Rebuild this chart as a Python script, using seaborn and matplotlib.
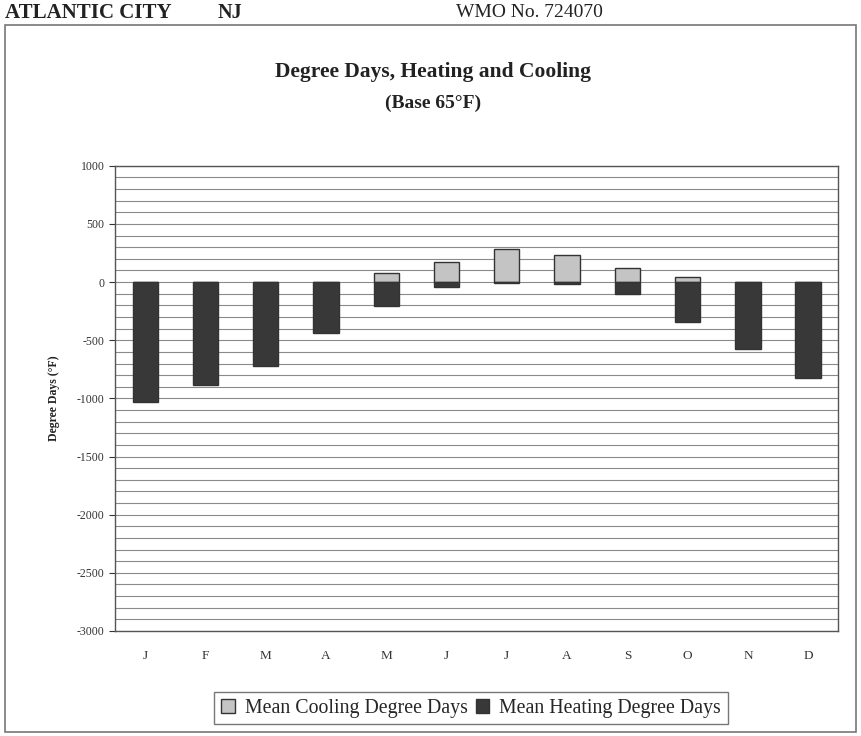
import numpy as np
import pandas as pd
import matplotlib.pyplot as plt
import seaborn as sns
from matplotlib.patches import Rectangle, Patch
from matplotlib.ticker import MultipleLocator

plt.switch_backend("agg")

# Monthly values
months = ["J", "F", "M", "A", "M", "J", "J", "A", "S", "O", "N", "D"]
cooling = [0, 0, 0, 0, 78, 172, 284, 233, 120, 43, 0, 0]
heating = [1035, 888, 724, 440, 207, 43, 4, 12, 103, 345, 578, 828]

cool_label = "Mean Cooling Degree Days"
heat_label = "Mean Heating Degree Days"

df = pd.DataFrame({
    "pos": list(range(12)) * 2,
    "value": cooling + [-h for h in heating],
    "series": [cool_label] * 12 + [heat_label] * 12,
})

sns.set_style("white")
plt.rcParams["font.family"] = ["Liberation Serif", "DejaVu Serif"]
plt.rcParams["axes.unicode_minus"] = False

fig = plt.figure(figsize=(8.61, 7.36), dpi=100)
ax = fig.add_axes([0.1336, 0.1427, 0.84, 0.632])

colors = {cool_label: "#c4c4c4", heat_label: "#383838"}
sns.barplot(data=df, x="pos", y="value", hue="series", palette=colors,
            dodge=False, width=0.42, edgecolor="#333333", linewidth=1.0,
            legend=False, ax=ax, zorder=3)

ax.set_ylim(-3000, 1000)
ax.set_xlim(-0.5, 11.5)
ax.yaxis.set_major_locator(MultipleLocator(500))
ax.yaxis.set_minor_locator(MultipleLocator(100))
ax.grid(which="both", axis="y", color="#8a8a8a", linewidth=0.8, zorder=0)
ax.set_axisbelow(True)
ax.set_xticks(range(12))
ax.set_xticklabels(months)
ax.tick_params(axis="x", length=0, pad=14, labelsize=9.5, colors="#333333")
ax.tick_params(axis="y", which="major", length=4, labelsize=8.5,
               colors="#333333", left=True)
ax.set_xlabel("")
ax.set_ylabel("Degree Days (°F)", fontsize=8.5, fontweight="bold",
              labelpad=12, color="#222222")
for s in ax.spines.values():
    s.set_color("#555555")
    s.set_linewidth(1.0)

fig.text(0.503, 0.902, "Degree Days, Heating and Cooling", ha="center",
         va="center", fontsize=15.5, fontweight="bold", color="#222222")
fig.text(0.503, 0.859, "(Base 65°F)", ha="center", va="center",
         fontsize=14, fontweight="bold", color="#222222")

fig.text(0.006, 0.983, "ATLANTIC CITY", ha="left", va="center",
         fontsize=15, fontweight="bold", color="#222222")
fig.text(0.253, 0.983, "NJ", ha="left", va="center",
         fontsize=14.5, fontweight="bold", color="#222222")
fig.text(0.615, 0.983, "WMO No. 724070", ha="center", va="center",
         fontsize=14, color="#222222")

# outer frame of the scanned page
fig.patches.append(Rectangle((0.006, 0.006), 0.988, 0.96,
                             transform=fig.transFigure, fill=False,
                             edgecolor="#777777", linewidth=1.2))

handles = [Patch(facecolor=colors[cool_label], edgecolor="#333333", label=cool_label),
           Patch(facecolor=colors[heat_label], edgecolor="#333333", label=heat_label)]
fig.legend(handles=handles, loc="center", bbox_to_anchor=(0.547, 0.038),
           ncol=2, frameon=True, fontsize=14.3, handlelength=0.7,
           handleheight=0.7, handletextpad=0.5, columnspacing=0.4,
           edgecolor="#555555", fancybox=False, borderpad=0.35)

fig.savefig("out.png", dpi=100)
